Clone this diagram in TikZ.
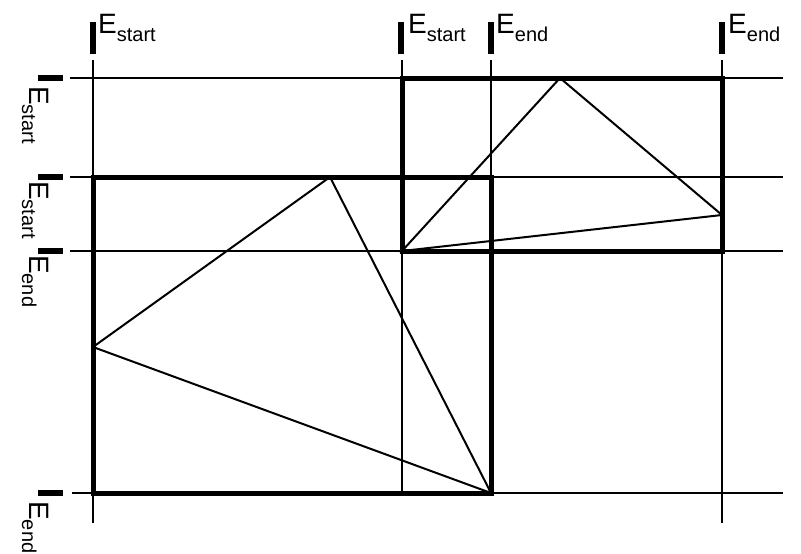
\documentclass[tikz,border=0pt]{standalone}
\usepackage{fontspec}
\setmainfont{Liberation Sans}
\newcommand\Elab[1]{\fontsize{28}{28}\selectfont E\raisebox{-8pt}{\fontsize{20}{20}\selectfont #1}}
\begin{document}
\begin{tikzpicture}[x=1pt,y=-1pt,
  gridline/.style={line width=1.8pt},
  frameline/.style={line width=5pt,line cap=rect},
  tickmark/.style={line width=6pt},
  edgeline/.style={line width=2pt},
  toplab/.style={inner sep=0,anchor=base west},
  sidelab/.style={inner sep=0,anchor=base west,rotate=-90}]
\useasboundingbox (0,0) rectangle (801,554);
% grid lines
\coordinate (h1l) at (70,78);  \coordinate (h1r) at (783,78);
\coordinate (h2l) at (70,177); \coordinate (h2r) at (783,177);
\coordinate (h3l) at (70,251); \coordinate (h3r) at (783,251);
\coordinate (h4l) at (72,493); \coordinate (h4r) at (783,493);
\coordinate (v1t) at (93,60);  \coordinate (v1b) at (93,523);
\coordinate (v2t) at (402,60); \coordinate (v2b) at (402,493);
\coordinate (v3t) at (491,60); \coordinate (v3b) at (491,493);
\coordinate (v4t) at (722,60); \coordinate (v4b) at (722,523);
\draw[gridline] (h1l) -- (h1r);
\draw[gridline] (h2l) -- (h2r);
\draw[gridline] (h3l) -- (h3r);
\draw[gridline] (h4l) -- (h4r);
\draw[gridline] (v1t) -- (v1b);
\draw[gridline] (v2t) -- (v2b);
\draw[gridline] (v3t) -- (v3b);
\draw[gridline] (v4t) -- (v4b);
% thick frames
\draw[frameline] (93,177) rectangle (491,493);
\draw[frameline] (402,78) rectangle (722,251);
% tick marks
\foreach \x in {93,401,491,722} \draw[tickmark] (\x,22) -- (\x,54);
\foreach \y in {78,177,251,493} \draw[tickmark] (38,\y) -- (63,\y);
% triangles
\coordinate (a1) at (93,347); \coordinate (b1) at (330,177); \coordinate (c1) at (491,493);
\coordinate (a2) at (402,251); \coordinate (b2) at (560,78); \coordinate (c2) at (722,215);
\draw[edgeline] (a1) -- (b1) -- (c1) -- cycle;
\draw[edgeline] (a2) -- (b2) -- (c2) -- cycle;
% top labels
\node[toplab] (t1) at (98,33) {\Elab{start}};
\node[toplab] (t2) at (408,33) {\Elab{start}};
\node[toplab] (t3) at (496,33) {\Elab{end}};
\node[toplab] (t4) at (728,33) {\Elab{end}};
% side labels
\node[sidelab] (s1) at (30,86) {\Elab{start}};
\node[sidelab] (s2) at (30,181) {\Elab{start}};
\node[sidelab] (s3) at (30,255) {\Elab{end}};
\node[sidelab] (s4) at (30,501) {\Elab{end}};
\end{tikzpicture}
\end{document}
